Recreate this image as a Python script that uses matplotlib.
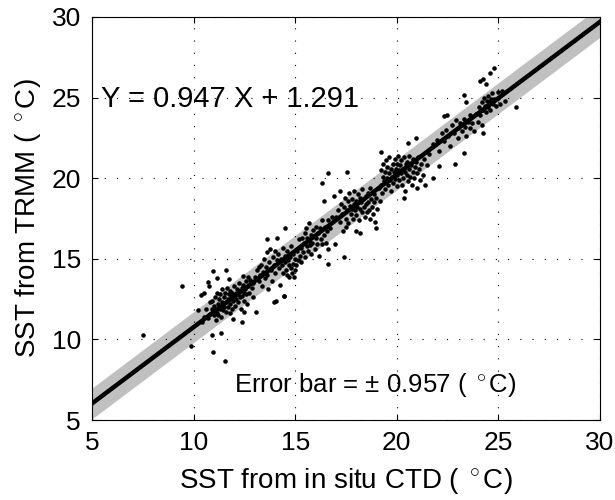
import matplotlib
matplotlib.use('Agg')
import matplotlib.pyplot as plt
import numpy as np

plt.rcParams['font.family'] = ['Liberation Sans', 'DejaVu Sans']
plt.rcParams['mathtext.fontset'] = 'custom'
plt.rcParams['mathtext.rm'] = 'Liberation Sans'
plt.rcParams['mathtext.it'] = 'Liberation Sans'

# fit from the figure
slope = 0.947
intercept = 1.291
err = 0.957

# SST pairs (in situ CTD, TRMM)
ctd = [
    # 10-13 C
    10.4, 10.5, 10.6, 10.7, 10.8, 10.8, 10.9, 10.9, 11.0, 11.0, 11.05, 11.1, 11.1, 11.15, 11.2, 11.2,
    11.25, 11.3, 11.3, 11.35, 11.4, 11.4, 11.45, 11.5, 11.5, 11.55, 11.6, 11.6, 11.65, 11.7, 11.7,
    11.75, 11.8, 11.8, 11.85, 11.9, 11.9, 11.95, 12.0, 12.0, 12.05, 12.1, 12.1, 12.15, 12.2, 12.2,
    12.25, 12.3, 12.3, 12.35, 12.4, 12.4, 12.45, 12.5, 12.5, 12.55, 12.6, 12.6, 12.65, 12.7, 12.75,
    12.8, 12.85, 12.9, 12.9,
    7.53, 9.44, 9.87, 10.22, 10.36, 10.51, 10.72, 10.76, 10.94, 11.58, 11.17, 11.74, 10.89, 11.35,
    10.97, 11.55, 11.92, 12.37, 11.79, 11.14, 12.45, 12.69, 12.5, 13.05,
    # 13-15.3 C
    13.0, 13.1, 13.2, 13.25, 13.3, 13.35, 13.4, 13.45, 13.5, 13.55, 13.6, 13.6, 13.65, 13.7, 13.75,
    13.8, 13.85, 13.9, 13.95, 14.0, 14.0, 14.05, 14.1, 14.15, 14.2, 14.25, 14.3, 14.35, 14.4, 14.4,
    14.45, 14.5, 14.5, 14.55, 14.6, 14.6, 14.65, 14.7, 14.7, 14.75, 14.8, 14.8, 14.85, 14.9, 14.9,
    14.95, 15.0, 15.0, 15.05, 15.1, 15.15, 15.2, 15.25, 15.3,
    13.6, 14.5, 13.96, 14.44, 13.2, 14.1,
    # 15.3-17 C
    15.3, 15.35, 15.4, 15.45, 15.5, 15.5, 15.55, 15.6, 15.6, 15.65, 15.7, 15.7, 15.75, 15.8, 15.8,
    15.85, 15.9, 15.95, 16.0, 16.0, 16.05, 16.1, 16.15, 16.2, 16.25, 16.3, 16.3, 16.4, 16.45, 16.5,
    16.55, 16.6, 16.6, 16.7, 16.8,
    16.6, 17.4, 16.3, 16.6, 17.56, 16.96, 16.4, 17.5,
    # 17-19.2 C
    17.0, 17.1, 17.2, 17.25, 17.3, 17.35, 17.4, 17.45, 17.5, 17.55, 17.6, 17.6, 17.65, 17.7, 17.75,
    17.8, 17.8, 17.85, 17.9, 17.9, 17.95, 18.0, 18.0, 18.05, 18.1, 18.1, 18.15, 18.2, 18.2, 18.25,
    18.3, 18.3, 18.35, 18.4, 18.45, 18.5, 18.5, 18.55, 18.6, 18.6, 18.65, 18.7, 18.7, 18.75, 18.8,
    18.85, 18.9, 18.9, 18.95, 19.0, 19.05, 19.1, 19.15,
    18.17, 18.98, 18.0, 16.9, 17.2,
    # 19.2-21.6 C
    19.2, 19.2, 19.25, 19.3, 19.3, 19.35, 19.4, 19.4, 19.45, 19.5, 19.5, 19.55, 19.6, 19.6, 19.65,
    19.7, 19.7, 19.75, 19.8, 19.8, 19.85, 19.9, 19.9, 19.95, 20.0, 20.0, 20.0, 20.05, 20.1, 20.1,
    20.15, 20.2, 20.2, 20.25, 20.3, 20.3, 20.35, 20.4, 20.4, 20.45, 20.5, 20.5, 20.55, 20.6, 20.6,
    20.65, 20.7, 20.75, 20.8, 20.8, 20.85, 20.9, 20.95, 21.0, 21.0, 21.05, 21.1, 21.15, 21.2, 21.3,
    21.35, 21.4, 21.5, 21.6,
    20.37, 20.95, 20.56, 22.07, 19.2, 21.8,
    # 21.8-23.8 C
    21.8, 22.0, 22.1, 22.2, 22.3, 22.4, 22.5, 22.6, 22.7, 22.8, 22.9, 23.0, 23.0, 23.1, 23.2, 23.3,
    23.35, 23.4, 23.5, 23.6, 23.6, 23.7, 23.8,
    22.3, 22.45, 23.3, 22.87, 23.33, 23.43, 24.22,
    # 23.9-25.9 C
    23.9, 24.0, 24.05, 24.1, 24.2, 24.2, 24.25, 24.3, 24.35, 24.4, 24.45, 24.5, 24.5, 24.55, 24.6,
    24.65, 24.7, 24.75, 24.8, 24.9, 25.0, 25.1, 25.2,
    24.26, 24.76, 24.41, 25.34, 25.86, 25.0, 24.6, 24.1,
]
trmm = [
    11.1, 11.4, 11.9, 11.3, 11.6, 12.3, 11.9, 12.4, 11.5, 12.1, 12.6, 11.2, 11.8, 12.9, 12.2, 11.5,
    12.5, 11.9, 12.8, 11.4, 12.3, 13.1, 11.8, 12.6, 12.0, 12.9, 12.3, 11.7, 13.2, 12.5, 12.0,
    12.8, 12.2, 13.0, 12.6, 11.9, 12.9, 12.4, 12.7, 13.3, 12.1, 12.9, 12.5, 13.1, 12.3, 12.8,
    13.5, 12.6, 13.0, 11.9, 13.2, 12.7, 13.4, 12.9, 12.4, 13.1, 13.6, 12.8, 12.2, 13.3, 12.9,
    13.7, 13.2, 13.5, 12.6,
    10.28, 13.33, 9.6, 11.84, 12.77, 12.86, 13.56, 13.33, 14.27, 14.31, 13.81, 13.75, 10.28, 10.42,
    9.2, 8.68, 11.28, 11.11, 11.63, 11.63, 13.92, 13.85, 11.7, 11.73,
    13.9, 14.3, 13.6, 14.0, 14.6, 13.3, 14.2, 15.0, 13.8, 14.5, 15.4, 14.0, 13.1, 14.8, 15.6,
    14.3, 13.6, 15.1, 14.6, 15.5, 14.1, 12.4, 14.9, 15.3, 14.4, 13.4, 15.0, 14.6, 15.7, 14.1,
    12.7, 14.8, 15.2, 14.3, 14.0, 15.5, 14.9, 13.9, 14.6, 15.1, 14.4, 15.8, 14.1, 15.3, 14.7,
    13.9, 14.3, 15.0, 14.6, 15.5, 14.9, 16.2, 15.2, 14.8,
    16.25, 16.9, 12.35, 12.7, 14.5, 16.3,
    15.7, 16.3, 15.4, 16.0, 16.6, 15.1, 16.9, 15.8, 16.3, 15.5, 17.2, 16.1, 15.85, 16.5, 15.3,
    16.0, 16.8, 15.6, 16.3, 17.0, 15.9, 16.6, 15.2, 16.9, 16.2, 17.4, 15.9, 16.5, 17.0, 16.0,
    16.7, 15.6, 17.4, 16.9, 17.6,
    14.7, 15.1, 19.7, 20.35, 20.37, 15.9, 18.6, 17.0,
    17.6, 18.0, 17.3, 18.4, 17.8, 16.7, 18.2, 18.8, 17.5, 18.0, 18.6, 17.2, 19.1, 18.3, 17.8,
    18.7, 18.1, 17.5, 18.4, 19.2, 18.0, 18.6, 17.7, 18.2, 19.0, 18.5, 17.4, 18.8, 18.1, 18.5,
    17.9, 19.3, 18.7, 18.2, 17.6, 18.9, 18.4, 17.9, 19.1, 18.5, 18.0, 17.5, 19.4, 18.7, 18.2,
    17.8, 19.0, 18.5, 17.3, 18.8, 18.1, 19.4, 18.6,
    16.57, 16.88, 16.7, 18.9, 19.2,
    19.6, 20.5, 19.1, 20.1, 20.9, 19.8, 20.4, 19.3, 21.1, 20.0, 20.7, 19.6, 20.3, 21.3, 19.9,
    20.6, 19.2, 20.1, 20.9, 19.7, 20.4, 21.2, 19.95, 20.6, 20.2, 20.9, 19.5, 21.4, 20.5, 19.9,
    20.8, 20.3, 21.1, 19.6, 20.6, 20.0, 21.3, 20.4, 19.2, 20.9, 20.2, 21.0, 19.8, 20.6, 21.4,
    20.1, 20.8, 19.6, 20.4, 21.2, 20.0, 20.7, 21.0, 20.3, 19.4, 21.3, 20.6, 19.9, 20.9, 20.2,
    21.2, 19.6, 20.8, 21.5,
    18.75, 22.48, 22.17, 20.76, 21.6, 20.0,
    22.1, 22.4, 21.7, 22.8, 22.3, 23.0, 22.6, 22.0, 23.3, 22.8, 23.6, 23.1, 22.5, 23.4, 22.9, 23.7,
    23.2, 22.6, 23.5, 23.9, 23.1, 23.4, 22.9,
    23.83, 23.94, 21.55, 20.86, 25.18, 24.73, 22.8,
    24.0, 23.5, 24.4, 23.9, 24.7, 23.3, 24.2, 25.0, 24.5, 24.1, 24.8, 24.4, 25.1, 24.7, 24.2,
    24.9, 25.3, 24.6, 24.9, 24.5, 25.0, 24.6, 25.4,
    26.16, 26.85, 25.85, 24.77, 24.39, 25.33, 26.5, 26.0,
]

fig = plt.figure(figsize=(6.15, 5.0), dpi=100)
ax = fig.add_axes([0.1496, 0.16, 0.826, 0.806])

xx = np.array([5, 30])
fit = slope * xx + intercept
ax.fill_between(xx, fit - err, fit + err, color='#c0c0c0', lw=0, zorder=1)
ax.plot(ctd, trmm, '.', color='black', ms=4.5, zorder=2)
ax.plot(xx, fit, '-', color='black', lw=3.2, zorder=3)

ax.set_xlim(5, 30)
ax.set_ylim(5, 30)
ax.set_xticks([5, 10, 15, 20, 25, 30])
ax.set_yticks([5, 10, 15, 20, 25, 30])
ax.grid(True, color='black', linestyle=(0, (1, 10)), linewidth=0.8)
ax.tick_params(direction='in', top=True, right=True, labelsize=19, length=4, pad=8)
for s in ax.spines.values():
    s.set_linewidth(0.8)

ax.set_xlabel('SST from in situ CTD ( $^\\circ$C)', fontsize=20, labelpad=8)
ax.set_ylabel('SST from TRMM ( $^\\circ$C)', fontsize=20, labelpad=6)

ax.text(5.45, 24.9, 'Y = 0.947 X + 1.291', fontsize=21, va='center', ha='left')
ax.text(12.0, 7.2, 'Error bar = $\\pm$ 0.957 ( $^\\circ$C)', fontsize=18.5, va='center', ha='left')

fig.savefig('out.png', dpi=100)
